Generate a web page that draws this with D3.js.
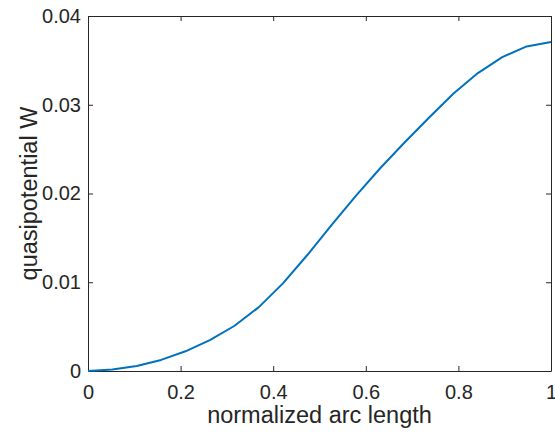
<!DOCTYPE html>
<html lang="en">
<head>
    <meta charset="UTF-8">
    <title>Quasipotential</title>
    <script src="https://d3js.org/d3.v7.min.js"></script>
    <style>
        body { margin: 0; background: #fff; }
        svg { display: block; font-family: "Liberation Sans", Arial, sans-serif; }
        .tick text { fill: #262626; font-size: 20px; }
    </style>
</head>
<body>
    <svg width="555" height="432"></svg>
    <script>
        // arc length samples (20 nodes) and quasipotential
        var arcLength = d3.range(20).map(function(i) { return i / 19; });
        var quasiW = [0, 0.00017, 0.00057, 0.00125, 0.00222, 0.00347, 0.00507, 0.00717, 0.00987, 0.01307,
                      0.01647, 0.01977, 0.02287, 0.02577, 0.02857, 0.03127, 0.03357, 0.03537, 0.03657, 0.03707];
        var xTicks = [0, 0.2, 0.4, 0.6, 0.8, 1];
        var yTicks = [0, 0.01, 0.02, 0.03, 0.04];

        var svg = d3.select('svg'),
            margin = { top: 16, right: 4, bottom: 61, left: 88 },
            width = +svg.attr('width') - margin.left - margin.right,
            height = +svg.attr('height') - margin.top - margin.bottom;

        var x = d3.scaleLinear().domain([0, 1]).range([0, width]);
        var y = d3.scaleLinear().domain([0, 0.04]).range([height, 0]);

        var g = svg.append('g')
            .attr('transform', 'translate(' + margin.left + ',' + margin.top + ')');

        var fmt = function(d) { return d === 0 ? '0' : d === 1 ? '1' : String(d); };

        // bottom and left axes with labels, ticks pointing inward
        var xAxis = g.append('g')
            .attr('transform', 'translate(0,' + height + ')')
            .call(d3.axisBottom(x).tickValues(xTicks).tickFormat(fmt).tickSizeInner(-5).tickSizeOuter(0).tickPadding(14));
        var yAxis = g.append('g')
            .call(d3.axisLeft(y).tickValues(yTicks).tickFormat(fmt).tickSizeInner(-5).tickSizeOuter(0).tickPadding(7));
        // top and right axes, ticks only
        var xTop = g.append('g')
            .call(d3.axisTop(x).tickValues(xTicks).tickFormat('').tickSizeInner(-5).tickSizeOuter(0));
        var yRight = g.append('g')
            .attr('transform', 'translate(' + width + ',0)')
            .call(d3.axisRight(y).tickValues(yTicks).tickFormat('').tickSizeInner(-5).tickSizeOuter(0));

        [xAxis, yAxis, xTop, yRight].forEach(function(a) {
            a.select('.domain').attr('stroke', '#262626');
            a.selectAll('.tick line').attr('stroke', '#262626');
        });

        g.append('path')
            .datum(arcLength)
            .attr('fill', 'none')
            .attr('stroke', '#0072BD')
            .attr('stroke-width', 2)
            .attr('stroke-linejoin', 'round')
            .attr('d', d3.line()
                .x(function(d) { return x(d); })
                .y(function(d, i) { return y(quasiW[i]); }));

        svg.append('text')
            .attr('x', margin.left + width / 2)
            .attr('y', 423)
            .attr('text-anchor', 'middle')
            .attr('fill', '#262626')
            .style('font-size', '23.5px')
            .text('normalized arc length');

        svg.append('text')
            .attr('transform', 'translate(37,' + (margin.top + height / 2) + ') rotate(-90)')
            .attr('text-anchor', 'middle')
            .attr('fill', '#262626')
            .style('font-size', '23.5px')
            .text('quasipotential W');
    </script>
</body>
</html>
